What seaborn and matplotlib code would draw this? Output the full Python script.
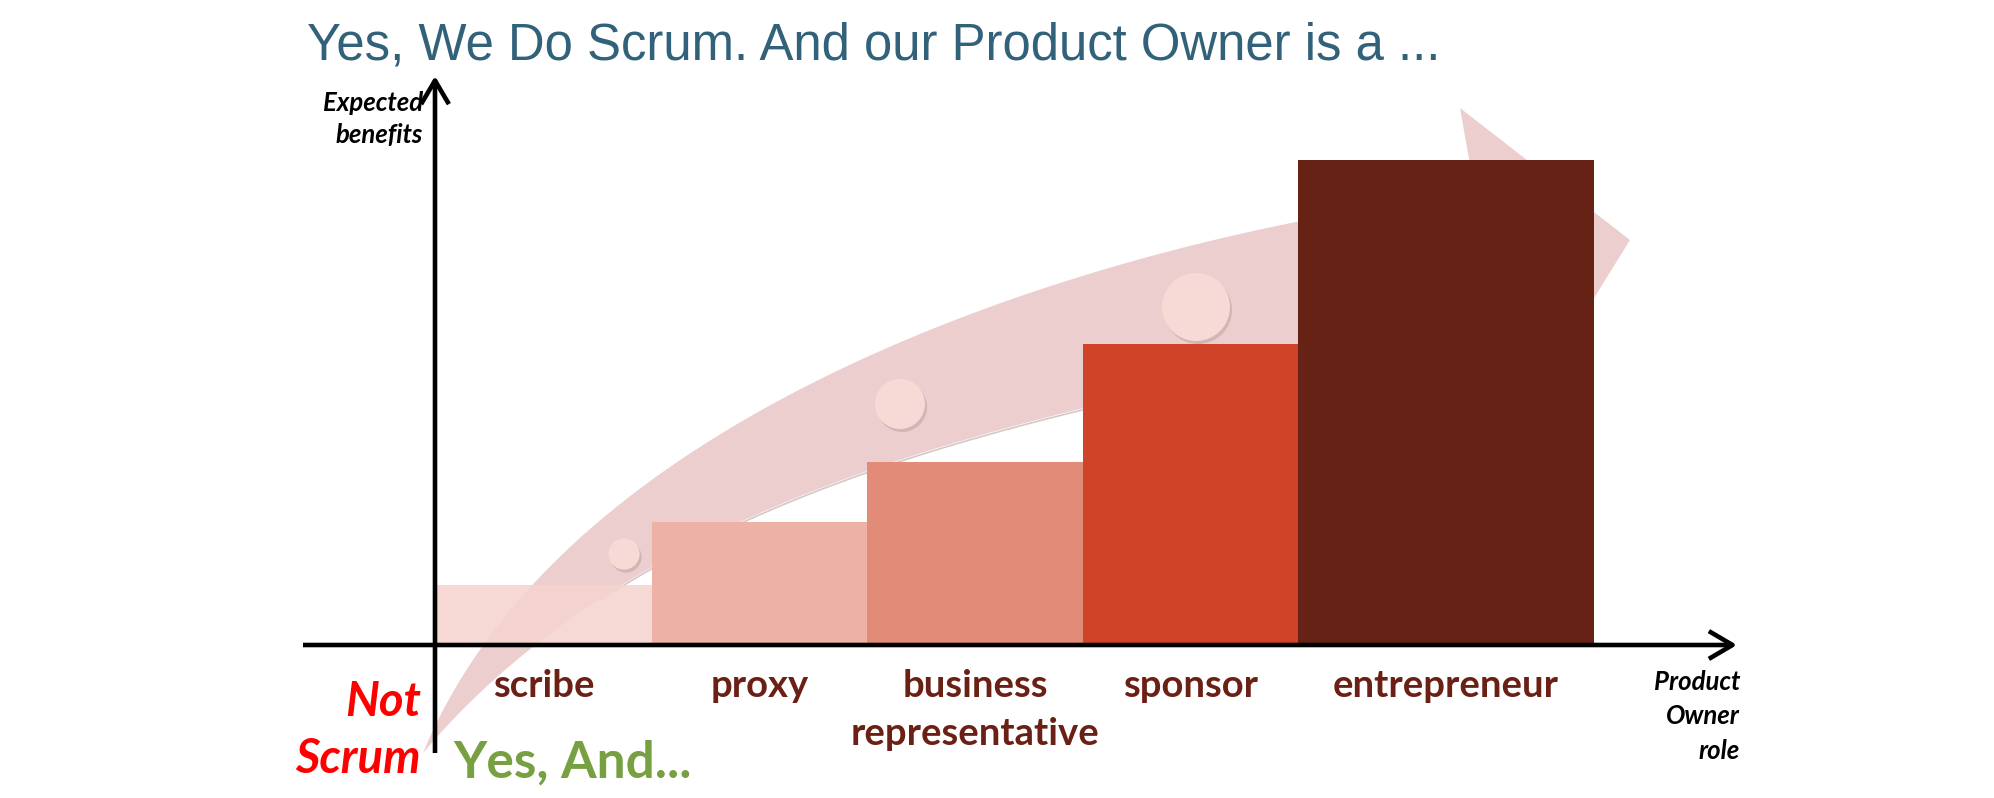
import numpy as np
import pandas as pd
import matplotlib
matplotlib.use("Agg")
import matplotlib.pyplot as plt
import matplotlib.transforms as mtransforms
from matplotlib.patches import Polygon, Circle, FancyArrowPatch
import seaborn as sns

# data (entrepreneur = 100)
roles = ["scribe", "proxy", "business representative", "sponsor", "entrepreneur"]
role_labels = ["scribe", "proxy", "business\nrepresentative", "sponsor", "entrepreneur"]
benefits = [12, 25, 37.5, 62, 100]
role_widths = [1, 1, 1, 1, 1.37]
bar_colors = ["#F5D4CE", "#EDB1A5", "#E38B79", "#CF4428", "#662215"]

title = "Yes, We Do Scrum. And our Product Owner is a ..."
y_title = ["Expected", "benefits"]
x_title = ["Product", "Owner", "role"]

W, H = 1994, 798
X0, UX = 436, 215.6   # pixel of x=0, pixels per role width
Y0, UY = 643, 4.83    # pixel of baseline, pixels per benefit unit

sns.set_theme(style="white")

fig = plt.figure(figsize=(W / 100, H / 100), dpi=100)
ax = fig.add_axes([0, 0, 1, 1])

edges = np.concatenate([[0], np.cumsum(role_widths)])
centers = edges[:-1] + np.array(role_widths) / 2
df = pd.DataFrame({"role": roles, "pos": centers, "benefit": benefits})

sns.histplot(data=df, x="pos", weights="benefit", bins=[float(e) for e in edges],
             hue="role", hue_order=roles, palette=bar_colors, multiple="layer",
             alpha=1, linewidth=0, legend=False, ax=ax, zorder=2)

# the first bar lets the big arrow show through a little
for p in ax.patches:
    if p.get_height() > 0 and abs(p.get_x() - edges[0]) < 1e-9:
        p.set_alpha(0.88)

ax.set_xlim(-X0 / UX, (W - X0) / UX)
ax.set_ylim(-(H - Y0) / UY, Y0 / UY)
ax.axis("off")

# pixel coords (origin top-left) for the decorations
pix = mtransforms.Affine2D().scale(1 / W, -1 / H).translate(0, 1) + fig.transFigure


def smooth(pts, deg=4, n=200):
    p = np.asarray(pts, float)
    d = np.r_[0, np.cumsum(np.hypot(*np.diff(p, axis=0).T))]
    t = d / d[-1]
    w = np.ones(len(p))
    w[[0, -1]] = 50
    tt = np.linspace(0, 1, n)
    return np.column_stack([np.polyval(np.polyfit(t, p[:, k], deg, w=w), tt)
                            for k in range(2)])


# big curved arrow in the background
upper = smooth([(423, 753), (480, 645), (534, 585), (668, 470), (802, 387),
                (900, 342), (1000, 305), (1100, 270), (1200, 242),
                (1297, 223), (1475, 193)])
lower = smooth([(423, 753), (451, 726), (527, 645), (650, 574), (744, 522),
                (869, 463), (1000, 433), (1083, 410), (1200, 381),
                (1350, 347), (1496, 313)])
head = np.array([(1516, 424), (1630, 240), (1460, 108)])
band = np.vstack([lower, head, upper[::-1]])
ax.add_patch(Polygon(band, closed=True, facecolor="#EDCECE", edgecolor="none",
                     transform=pix, zorder=1))
ax.plot(lower[40:, 0], lower[40:, 1] + 1.5, color="#B9A3A3", lw=1.2, alpha=0.6,
        transform=pix, zorder=1.1)

for cx, cy, r in [(624, 554, 15.6), (900, 404, 25), (1196, 307, 34)]:
    ax.add_patch(Circle((cx + 2, cy + 3), r, facecolor="#9E8A8A", alpha=0.35,
                        edgecolor="none", transform=pix, zorder=1.2))
    ax.add_patch(Circle((cx, cy), r, facecolor="#F7DAD6", edgecolor="none",
                        transform=pix, zorder=1.3))

# axes with arrow heads
arrow_kw = dict(arrowstyle="->,head_length=0.85,head_width=0.5", mutation_scale=20,
                lw=3.3, color="black", transform=pix, zorder=5,
                shrinkA=0, shrinkB=0, capstyle="butt")
ax.add_patch(FancyArrowPatch((303, 645), (1737, 645), **arrow_kw))
ax.add_patch(FancyArrowPatch((435, 753), (435, 76), **arrow_kw))

# texts
ax.text(307, 60, title, transform=pix, fontsize=36.6, color="#31627A",
        family="Liberation Sans", va="baseline", ha="left")

lab_font = dict(family="Lato", weight="bold", style="italic", color="black",
                fontsize=18.5, ha="right", va="baseline", transform=pix)
for i, s in enumerate(y_title):
    ax.text(423, 111 + i * 32, s, **lab_font)
for i, s in enumerate(x_title):
    ax.text(1740, 690 + i * 34.5, s, **lab_font)

for c, lab in zip(centers, role_labels):
    for j, line in enumerate(lab.split("\n")):
        ax.text(X0 + c * UX, 697 + j * 48, line, transform=pix, family="Lato",
                weight="bold", fontsize=27.5, color="#6B2015", ha="center",
                va="baseline")

ax.text(421, 716, "Not", transform=pix, family="Lato", weight="bold",
        style="italic", fontsize=34, color="#FF0000", ha="right", va="baseline")
ax.text(421, 773, "Scrum", transform=pix, family="Lato", weight="bold",
        style="italic", fontsize=34, color="#FF0000", ha="right", va="baseline")
ax.text(453, 778, "Yes, And...", transform=pix, family="Lato", weight="bold",
        fontsize=37, color="#77A043", ha="left", va="baseline")

fig.savefig("out.png", dpi=100)
